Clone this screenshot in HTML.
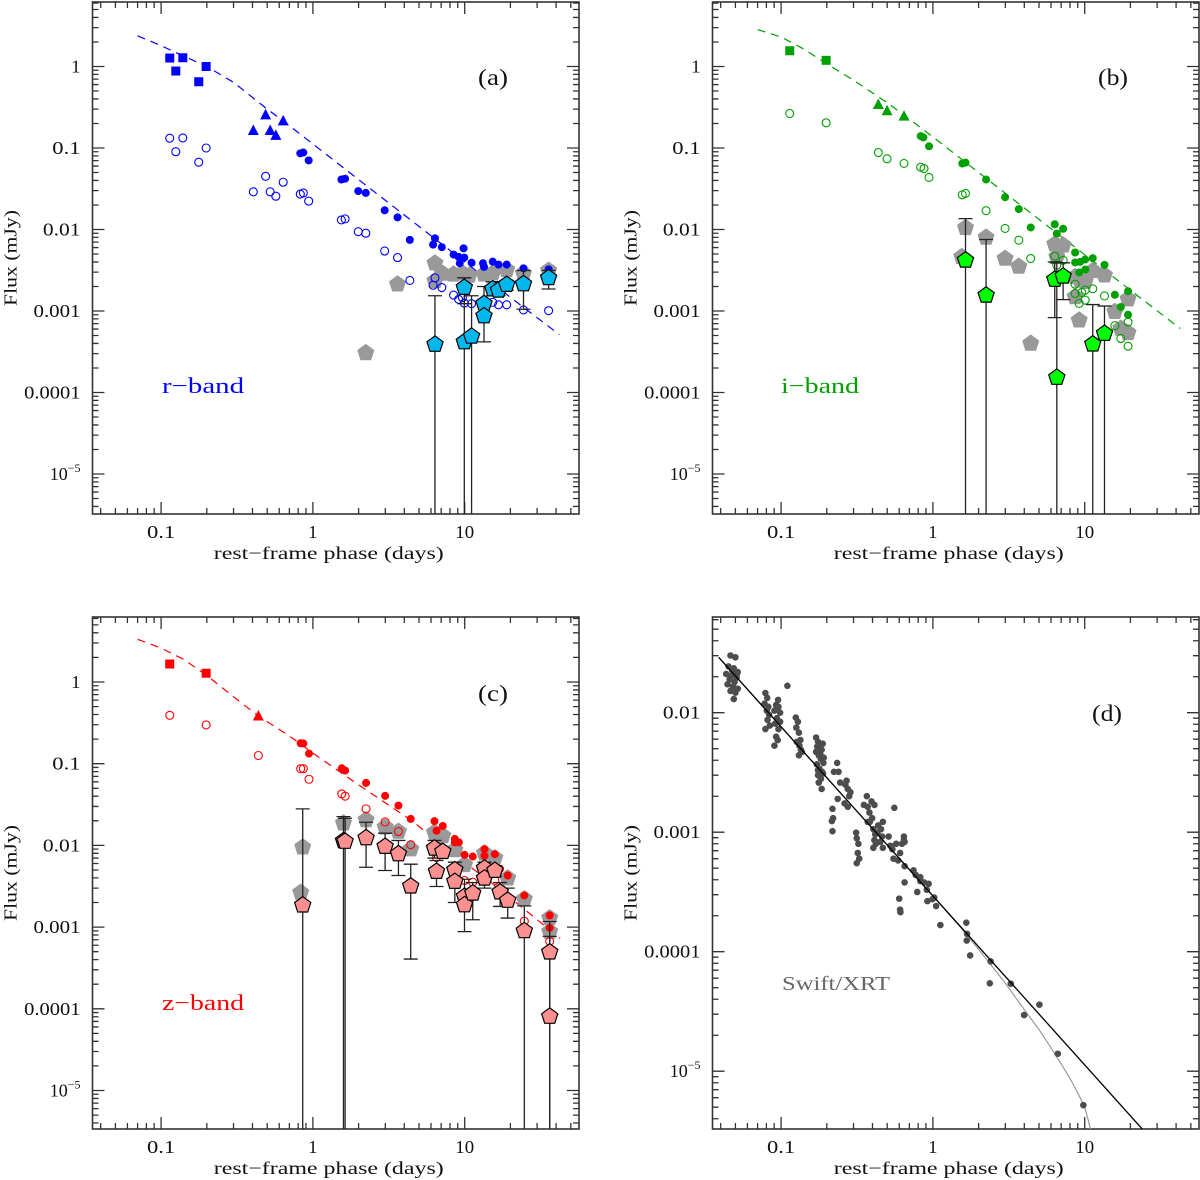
<!DOCTYPE html>
<html><head><meta charset="utf-8"><title>Light curves</title>
<style>
html,body{margin:0;padding:0;background:#fff;}
svg{display:block;font-family:"Liberation Serif","DejaVu Serif",serif;}
</style></head>
<body>
<svg id="fig" width="1200" height="1180" viewBox="0 0 1200 1180" xmlns="http://www.w3.org/2000/svg">
<defs>
<clipPath id="clipA"><rect x="92.5" y="2" width="486.5" height="512"/></clipPath>
<clipPath id="clipB"><rect x="712.5" y="2" width="486.5" height="512"/></clipPath>
<clipPath id="clipC"><rect x="92.5" y="617" width="486.5" height="512"/></clipPath>
<clipPath id="clipD"><rect x="712.5" y="617" width="486.5" height="512"/></clipPath>
</defs>
</svg>
<script>
// ---------- Panel (a) r-band ----------
const aSqT=[0.114,0.125,0.139,0.177,0.198];
const aSqF=[1.27,0.88,1.28,0.65,1.0];
const aSqOF=[0.132,0.09,0.133,0.067,0.10];
const aTriT=[0.405,0.488,0.523,0.57,0.637];
const aTriF=[0.164,0.255,0.164,0.143,0.215];
const aTriOF=[0.029,0.045,0.029,0.0256,0.038];
const aDotT=[0.826,0.865,0.938,1.54,1.63,1.99,2.23,2.97,3.61,4.35,6.37,6.19,7.07,8.45,9.12,9.28,9.83,9.94,11.1,13.2,13.4,15.3,16.7,18.9,24.4,35.7];
const aDotF=[0.086,0.088,0.0705,0.041,0.042,0.0296,0.0281,0.0172,0.0141,0.00746,0.00778,0.00652,0.00606,0.00492,0.00462,0.00386,0.00587,0.00452,0.00391,0.00386,0.00348,0.00403,0.00371,0.00371,0.00334,0.00324];
const aOpenT=[0.826,0.865,0.938,1.54,1.63,1.99,2.23,2.97,3.61,4.35,6.19,6.37,7.07,8.45,9.12,9.66,9.94,11.1,13.2,15.3,16.7,18.9,24.4,35.7];
const aOpenF=[0.0272,0.0281,0.0223,0.0131,0.0135,0.0094,0.0090,0.00545,0.00452,0.00237,0.00207,0.00255,0.00194,0.00157,0.00139,0.00146,0.00125,0.00123,0.00125,0.00128,0.00119,0.00119,0.00103,0.00101];
const aGreyT=[2.23,3.61,6.37,7.15,8.45,9.66,10.7,13.4,15.3,18.9,24.4,35.7,6.37];
const aGreyF=[3.06e-4,0.00213,0.00386,0.00288,0.00282,0.00291,0.00273,0.00282,0.00291,0.0032,0.00288,0.00314,0.00234];
const aPentT=[6.37,9.94,9.94,11.1,13.4,13.4,15.3,16.7,18.9,24.4,35.7];
const aPentF=[3.89e-4,0.00194,4.18e-4,4.89e-4,0.00123,8.69e-4,0.00186,0.0018,0.00211,0.00215,0.00255];
const aPentHi=[0.00154,0.00255,0.00255,0.00154,0.0020,null,0.00228,0.00228,0.00237,0.00314,0.00314];
const aPentLo=[0,0.00123,0,0,4.18e-4,null,0.00154,0.00154,0.0018,0.00105,0.00186];
const aModelT=[0.07,0.1,0.14,0.2,0.3,0.5,0.637,1,2,5,10,20,42];
const aModelF=[2.38,1.8,1.35,1.0,0.64,0.3,0.215,0.112,0.041,0.0109,0.004,0.00147,5.15e-4];

// ---------- Panel (b) i-band ----------
const bSqT=[0.114,0.198];
const bSqF=[1.56,1.19];
const bSqOF=[0.265,0.204];
const bTriT=[0.437,0.499,0.645];
const bTriF=[0.342,0.286,0.246];
const bOpenT=[0.437,0.499,0.645,0.831,0.874,0.943,1.56,1.64,2.24,2.99,3.68,4.41,6.35,6.55,7.21,8.65,8.65,9.2,9.57,10.07,11.3,10.07,13.5,15.8,17.3,19.3,19.3];
const bOpenF=[0.088,0.0736,0.0646,0.0582,0.056,0.0435,0.0266,0.0277,0.017,0.0103,0.0074,0.0044,0.00471,0.00365,0.00419,0.00213,0.00164,0.00124,0.00169,0.0018,0.00187,0.00136,0.00153,6.6e-4,4.6e-4,7.3e-4,3.7e-4];
const bDotT=[0.831,0.865,0.943,1.56,1.64,2.24,2.99,3.68,4.41,6.35,6.55,7.21,8.65,8.65,9.33,10.07,11.3,9.2,10.1,13.5,15.8,17.3,19.3,19.3];
const bDotF=[0.14,0.135,0.105,0.0645,0.0662,0.041,0.0249,0.0178,0.0106,0.0116,0.0089,0.0102,0.00522,0.00394,0.00401,0.00428,0.00445,0.00297,0.00323,0.00368,0.00158,0.00112,0.00175,0.0009];
const bGreyT=[1.64,2.24,1.55,2.99,3.68,4.41,6.35,7.21,6.55,8.65,9.33,10.07,11.3,13.5,8.65,9.2,15.8,19.3,17.3,19.3];
const bGreyF=[0.0105,0.008,0.00462,0.0044,0.00352,4e-4,0.0066,0.0064,0.00462,0.00262,0.00239,0.00228,0.00311,0.00275,0.00149,7.7e-4,9.8e-4,0.0014,6.1e-4,5.4e-4];
const bPentT=[1.64,2.24,6.35,6.55,7.21,11.3,13.5];
const bPentF=[0.0042,0.00156,0.00244,1.53e-4,0.00267,3.92e-4,5.3e-4];
const bPentHi=[0.0136,0.00754,0.00401,0.0039,0.0039,0.0012,0.00115];
const bPentLo=[0,0,8.3e-4,0,0.00138,0,0];
const bModelT=[0.07,0.1,0.14,0.198,0.3,0.5,0.645,1,2,5,10,20,42.6];
const bModelF=[2.84,2.3,1.65,1.09,0.68,0.36,0.253,0.137,0.05,0.0133,0.0049,0.0018,6.1e-4];

// ---------- Panel (c) z-band ----------
const cSqT=[0.114,0.198];
const cSqF=[1.66,1.28];
const cSqOF=[0.391,0.298];
const cTriT=[0.437];
const cTriF=[0.384];
const cTriOF=[0.126];
const cDotT=[0.831,0.865,0.943,1.55,1.63,2.24,2.99,3.66,4.41,6.32,6.52,7.17,8.61,8.61,9.15,9.97,11.3,13.5,13.5,15.8,17.1,19.2,24.7,36.3,36.3];
const cDotF=[0.178,0.177,0.133,0.0879,0.0824,0.0582,0.0404,0.0307,0.0211,0.0198,0.0151,0.0173,0.012,0.0109,0.0109,0.00766,0.00731,0.009,0.00745,0.0078,0.00516,0.00428,0.00244,0.00139,9.8e-4];
const cOpenT=[0.831,0.865,0.943,1.55,1.63,2.24,2.99,3.66,4.41,6.52,9.97,11.3,15.8,24.7,36.3];
const cOpenF=[0.087,0.087,0.0645,0.0427,0.04,0.028,0.0194,0.0148,0.0102,0.0071,0.00372,0.00355,0.00372,0.00118,6.7e-4];
const cGreyT=[0.857,0.831,1.59,2.24,2.99,3.66,4.41,6.32,7.17,8.61,9.97,13.5,15.8,19.2,24.7,36.3,36.3];
const cGreyF=[0.0095,0.00265,0.0187,0.0205,0.0167,0.0148,0.009,0.0144,0.0131,0.0088,0.00578,0.008,0.007,0.00397,0.0022,0.00129,8.8e-4];
const cPentT=[0.857,1.59,1.63,2.24,2.99,3.66,4.41,6.32,6.52,7.17,8.61,8.61,9.97,9.97,11.3,13.5,13.5,15.8,17.1,19.2,24.7,36.3,36.3];
const cPentF=[0.00186,0.01135,0.0112,0.01236,0.0097,0.00787,0.00317,0.00924,0.00479,0.0084,0.00502,0.00361,0.00237,0.00187,0.0026,0.00526,0.00397,0.00493,0.00268,0.00212,9.0e-4,4.94e-4,8.07e-5];
const cPentHi=[0.028,0.0225,0.0215,0.0192,0.0141,0.0115,0.00589,0.0115,0.00653,null,0.00623,null,0.00385,null,0.00351,0.00623,null,0.00566,0.00351,0.003,0.00182,0.00117,7.7e-4];
const cPentLo=[0,0,0,0.0054,0.00493,0.00428,4.06e-4,0.007,0.00314,null,0.002,null,8.8e-4,null,0.00123,0.003,null,0.00417,0.00179,0.00129,0,0,0];
const cModelT=[0.07,0.1,0.14,0.198,0.3,0.437,0.7,1,2,4.41,10,20,42.6];
const cModelF=[3.33,2.6,1.9,1.22,0.66,0.384,0.218,0.135,0.055,0.0205,0.0062,0.00227,7.3e-4];

// ---------- Panel (d) Swift/XRT ----------
const dT=[0.0464,0.05,0.045,0.0488,0.0518,0.0435,0.047,0.0509,0.0458,0.0494,0.0444,0.0482,0.0518,0.0464,0.05,0.0488,0.0512,0.0476,
0.0788,0.081,0.0778,0.0824,0.0805,0.0834,0.0814,0.0843,0.0788,0.0927,0.0904,0.0961,0.0985,0.0938,0.0915,0.0961,0.0927,0.095,0.0904,0.110,0.0955,0.0985,
0.125,0.129,0.126,0.131,0.134,0.127,0.132,0.137,0.131,0.135,
0.17,0.175,0.18,0.185,0.17,0.177,0.183,0.19,0.172,0.179,0.186,0.175,0.183,0.177,0.185,0.188,0.173,0.181,0.191,0.175,0.189,
0.234,0.223,0.245,0.218,0.22,0.216,0.218,0.239,0.27,0.275,0.281,0.262,0.275,0.286,0.265,0.236,
0.312,0.315,0.323,0.32,0.327,0.315,0.351,0.367,0.372,0.382,0.394,0.398,0.372,0.412,0.405,0.417,0.412,0.421,0.431,0.455,0.463,0.45,0.468,0.436,0.468,0.384,0.405,
0.511,0.525,0.541,0.557,0.55,0.573,0.59,0.608,0.626,0.644,0.6,0.608,0.611,0.651,0.651,0.644,
0.651,0.745,0.77,0.789,0.826,0.875,0.912,0.92,0.938,0.826,1.02,1.05,0.994,
1.12,1.66,1.68,1.67,1.76,2.4,2.37,3.26,3.99,5.03,6.65,9.8];
const dF=[0.0301,0.0291,0.0244,0.0235,0.0219,0.0211,0.0204,0.0197,0.019,0.0181,0.0173,0.0165,0.0159,0.0152,0.0147,0.013,0.0211,0.0227,
0.0146,0.0133,0.0119,0.0112,0.0104,0.0096,0.0087,0.0078,0.0073,0.0116,0.0104,0.0112,0.01,0.009,0.0081,0.0073,0.0063,0.0059,0.0053,0.0168,0.0128,0.0084,
0.0091,0.0084,0.0075,0.0068,0.0059,0.0057,0.0053,0.0047,0.0044,0.0049,
0.0062,0.0057,0.0053,0.0049,0.0047,0.0044,0.0041,0.0038,0.0037,0.0034,0.0032,0.003,0.0028,0.0026,0.0023,0.0055,0.0052,0.0045,0.0042,0.0033,0.0031,
0.0038,0.0032,0.0026,0.00157,0.00131,0.00124,0.00102,0.0032,0.0027,0.0023,0.002,0.00174,0.00163,0.00216,0.0025,0.0019,
9.9e-4,8.9e-4,8e-4,6.7e-4,6e-4,5.5e-4,0.00169,0.002,0.00163,0.00146,0.00181,0.00131,0.00122,0.00169,0.00106,0.00096,0.00086,8e-4,9.9e-4,0.00106,0.00092,8.3e-4,7.4e-4,0.00114,0.00122,0.00122,7.4e-4,
9.2e-4,7.7e-4,7.2e-4,0.0016,6e-4,8e-4,5.8e-4,6.7e-4,8e-4,8.6e-4,2.78e-4,2.25e-4,2.14e-4,5.2e-4,8.3e-4,9.2e-4,
3.8e-4,4.8e-4,4.4e-4,3.16e-4,3.9e-4,3.8e-4,3.3e-4,2.65e-4,3.7e-4,4.2e-4,2.84e-4,2.41e-4,2.75e-4,
1.67e-4,1.75e-4,1.41e-4,1.24e-4,9.3e-5,8.3e-5,5.44e-5,5.4e-5,2.95e-5,3.6e-5,1.4e-5,5.2e-6];
const dLineT=[0.0388,24.0];
const dLineF=[0.0291,3.27e-6];
const dCurveT=[0.0388,1,1.5,2,3,4,5,6,7,8,9,10,10.5,11,11.5];
const dCurveF=[0.0291,2.93e-4,1.63e-4,1.05e-4,5.46e-5,3.27e-5,2.23e-5,1.57e-5,1.15e-5,8.7e-6,6.56e-6,5.04e-6,4.0e-6,3.12e-6,2.32e-6];

const yTicksA=[1,0.1,0.01,0.001,0.0001,1e-5];
const yTickLabelsA=["1","0.1","0.01","0.001","0.0001","10|−5"];
const yTicksD=[0.01,0.001,0.0001,1e-5];
const yTickLabelsD=["0.01","0.001","0.0001","10|−5"];
const xTicks=[0.1,1,10];
const xTickLabels=["0.1","1","10"];

// ---------- drawing ----------
const NS="http://www.w3.org/2000/svg";
const svg=document.getElementById('fig');
function mk(tag,attrs,parent){const e=document.createElementNS(NS,tag);for(const k in attrs)e.setAttribute(k,attrs[k]);(parent||svg).appendChild(e);return e;}
const L=Math.log10;
const P={
 a:{x0:92.5,x1:579,y0:2,y1:514,xc:312.9,dx:151.8,yc:66.5,dy:81.5,clip:'clipA'},
 b:{x0:712.5,x1:1199,y0:2,y1:514,xc:932.9,dx:151.8,yc:66.5,dy:81.5,clip:'clipB'},
 c:{x0:92.5,x1:579,y0:617,y1:1129,xc:312.9,dx:151.8,yc:682,dy:81.7,clip:'clipC'},
 d:{x0:712.5,x1:1199,y0:617,y1:1129,xc:932.9,dx:151.8,yc:473.7,dy:119.5,clip:'clipD'}
};
function X(p,t){return p.xc+p.dx*L(t);}
function Y(p,f){return f<=0?p.y1+5:p.yc-p.dy*L(f);}

function axes(p,name,yt,ytl){
 const g=mk('g',{});
 
 
 const fr=mk('rect',{x:p.x0,y:p.y0,width:p.x1-p.x0,height:p.y1-p.y0,fill:'none',stroke:'#333','stroke-width':1.6},g);
 
 
 let d='';
 const lt0=Math.floor((p.x0-p.xc)/p.dx), lt1=Math.ceil((p.x1-p.xc)/p.dx);
 for(let e=lt0;e<=lt1;e++)for(let k=1;k<10;k++){const x=X(p,k*Math.pow(10,e));if(x<=p.x0+0.5||x>=p.x1-0.5)continue;const len=k==1?12:6;
  d+=`M${x} ${p.y1}v${-len}M${x} ${p.y0}v${len}`;}
 const fTop=Math.pow(10,(p.yc-p.y0)/p.dy), fBot=Math.pow(10,(p.yc-p.y1)/p.dy);
 for(let e=Math.floor(L(fBot));e<=Math.ceil(L(fTop));e++)for(let k=1;k<10;k++){const y=Y(p,k*Math.pow(10,e));if(y<=p.y0+0.5||y>=p.y1-0.5)continue;const len=k==1?12:6;
  d+=`M${p.x0} ${y}h${len}M${p.x1} ${y}h${-len}`;}
 const tk=mk('path',{d:d,stroke:'#333','stroke-width':1.3,fill:'none'},g);
 
 
 yt.forEach((v,i)=>{
  const s=ytl[i];const y=Y(p,v);
  const t=mk('text',{x:p.x0-12,y:y+6,'text-anchor':'end','font-size':18,fill:'#111'},g);
  
  
  if(s.includes('|')){const [b,e]=s.split('|');
    const t1=mk('tspan',{},t);t1.textContent=b;const t2=mk('tspan',{'font-size':12,dy:-8},t);t2.textContent=e;}
  else{t.textContent=s;t.setAttribute('textLength',s.length*9.4);t.setAttribute('lengthAdjust','spacingAndGlyphs');}
 });
 xTicks.forEach((v,i)=>{
  const t=mk('text',{x:X(p,v),y:p.y1+24,'text-anchor':'middle','font-size':18,fill:'#111',textLength:xTickLabels[i].length*9.4,lengthAdjust:'spacingAndGlyphs'},g);
  t.textContent=xTickLabels[i];
  
  
 });
 const xt=mk('text',{x:(p.x0+p.x1)/2-7,y:p.y1+45,'text-anchor':'middle','font-size':18,fill:'#111',textLength:230,lengthAdjust:'spacingAndGlyphs'},g);
 xt.textContent='rest−frame phase (days)';
 
 
 const cy=(p.y0+p.y1)/2;
 const yt2=mk('text',{x:0,y:0,'text-anchor':'middle','font-size':18,fill:'#111',textLength:96,lengthAdjust:'spacingAndGlyphs',transform:`translate(${p.x0-76},${cy}) rotate(-90)`},g);
 yt2.textContent='Flux (mJy)';
 
 
}

function layer(p,name){const g=mk('g',{'clip-path':`url(#${p.clip})`});return g;}
function pent(cx,cy,r){let s='';for(let i=0;i<5;i++){const a=(-90+72*i)*Math.PI/180;s+=(cx+r*Math.cos(a)).toFixed(1)+','+(cy+r*Math.sin(a)).toFixed(1)+' ';}return s;}

function modelLine(p,T,F,col,g){
 let d='';T.forEach((t,i)=>{d+=(i?'L':'M')+X(p,t).toFixed(1)+' '+Y(p,F[i]).toFixed(1);});
 const e=mk('path',{d:d,fill:'none',stroke:col,'stroke-width':1.2,'stroke-dasharray':'8,6'},g);
 
 
}
function squares(p,T,F,col,g){T.forEach((t,i)=>{const e=mk('rect',{x:X(p,t)-4.5,y:Y(p,F[i])-4.5,width:9,height:9,fill:col},g);
 
 });}
function tris(p,T,F,col,g){T.forEach((t,i)=>{const x=X(p,t),y=Y(p,F[i]);const e=mk('polygon',{points:`${x-5.5},${y+4.5} ${x+5.5},${y+4.5} ${x},${y-6}`,fill:col},g);
 
 });}
function dots(p,T,F,col,g,r){T.forEach((t,i)=>{const e=mk('circle',{cx:X(p,t),cy:Y(p,F[i]),r:r||4,fill:col},g);
 
 });}
function opens(p,T,F,col,g){T.forEach((t,i)=>{const e=mk('circle',{cx:X(p,t),cy:Y(p,F[i]),r:4,fill:'none',stroke:col,'stroke-width':1.1},g);
 
 });}
function greys(p,T,F,g){T.forEach((t,i)=>{const e=mk('polygon',{points:pent(X(p,t),Y(p,F[i]),9),fill:'#999'},g);
 
 });}
function pents(p,T,F,Hi,Lo,col,g){
 T.forEach((t,i)=>{const x=X(p,t);
  if(Hi[i]!=null){const yh=Y(p,Hi[i]),yl=Lo[i]?Y(p,Lo[i]):p.y1+5;
   let d=`M${x} ${yh}V${yl}M${x-7} ${yh}h14`;if(Lo[i])d+=`M${x-7} ${yl}h14`;
   const e=mk('path',{d:d,stroke:'#222','stroke-width':1.3,fill:'none'},g);
   
   }
 });
 T.forEach((t,i)=>{const e=mk('polygon',{points:pent(X(p,t),Y(p,F[i]),8.5),fill:col,stroke:'#000','stroke-width':1.2},g);
  
  });
}
function label(x,y,s,col,size,len,name){const t=mk('text',{x:x,y:y,'text-anchor':'middle','font-size':size,fill:col});
 if(len){t.setAttribute('textLength',len);t.setAttribute('lengthAdjust','spacingAndGlyphs');}
 t.textContent=s;}

// Panel a
axes(P.a,'panel-a',yTicksA,yTickLabelsA);
{const g=layer(P.a,'panel-a-data');const p=P.a,c='#0000ff';
 modelLine(p,aModelT,aModelF,c,g);greys(p,aGreyT,aGreyF,g);
 opens(p,aSqT,aSqOF,c,g);opens(p,aTriT,aTriOF,c,g);opens(p,aOpenT,aOpenF,c,g);
 squares(p,aSqT,aSqF,c,g);tris(p,aTriT,aTriF,c,g);dots(p,aDotT,aDotF,c,g);
 pents(p,aPentT,aPentF,aPentHi,aPentLo,'#00b8ee',g);}
label(493,85,'(a)','#111',23,30,'panel-a-label');
label(203,393,'r−band','#0000ff',22,82,'r-band-label');

// Panel b
axes(P.b,'panel-b',yTicksA,yTickLabelsA);
{const g=layer(P.b,'panel-b-data');const p=P.b,c='#00a000';
 modelLine(p,bModelT,bModelF,c,g);greys(p,bGreyT,bGreyF,g);
 opens(p,bSqT,bSqOF,c,g);opens(p,bOpenT,bOpenF,c,g);
 squares(p,bSqT,bSqF,c,g);tris(p,bTriT,bTriF,c,g);dots(p,bDotT,bDotF,c,g);
 pents(p,bPentT,bPentF,bPentHi,bPentLo,'#00ff00',g);}
label(1113,85,'(b)','#111',23,30,'panel-b-label');
label(820,393,'i−band','#00a000',22,78,'i-band-label');

// Panel c
axes(P.c,'panel-c',yTicksA,yTickLabelsA);
{const g=layer(P.c,'panel-c-data');const p=P.c,c='#ff0000';
 modelLine(p,cModelT,cModelF,c,g);greys(p,cGreyT,cGreyF,g);
 opens(p,cSqT,cSqOF,c,g);opens(p,cTriT,cTriOF,c,g);opens(p,cOpenT,cOpenF,c,g);
 squares(p,cSqT,cSqF,c,g);tris(p,cTriT,cTriF,c,g);dots(p,cDotT,cDotF,c,g);
 pents(p,cPentT,cPentF,cPentHi,cPentLo,'#ff9090',g);}
label(493,701,'(c)','#111',23,30,'panel-c-label');
label(203,1010,'z−band','#ff0000',22,82,'z-band-label');

// Panel d
axes(P.d,'panel-d',yTicksD,yTickLabelsD);
{const g=layer(P.d,'panel-d-data');const p=P.d;
 let d='';dCurveT.forEach((t,i)=>{d+=(i?'L':'M')+X(p,t).toFixed(1)+' '+Y(p,dCurveF[i]).toFixed(1);});
 const cv=mk('path',{d:d,fill:'none',stroke:'#999','stroke-width':1.2,'stroke-linejoin':'round'},g);
 
 
 dots(p,dT,dF,'#4d4d4d',g,3.3);
 let d2='';dLineT.forEach((t,i)=>{d2+=(i?'L':'M')+X(p,t).toFixed(1)+' '+Y(p,dLineF[i]).toFixed(1);});
 const ln=mk('path',{d:d2,fill:'none',stroke:'#000','stroke-width':1.3},g);
 
 }
label(1107,721,'(d)','#111',23,30,'panel-d-label');
label(836,990,'Swift/XRT','#666',20,108,'swift-xrt-label');
</script>
</body></html>
